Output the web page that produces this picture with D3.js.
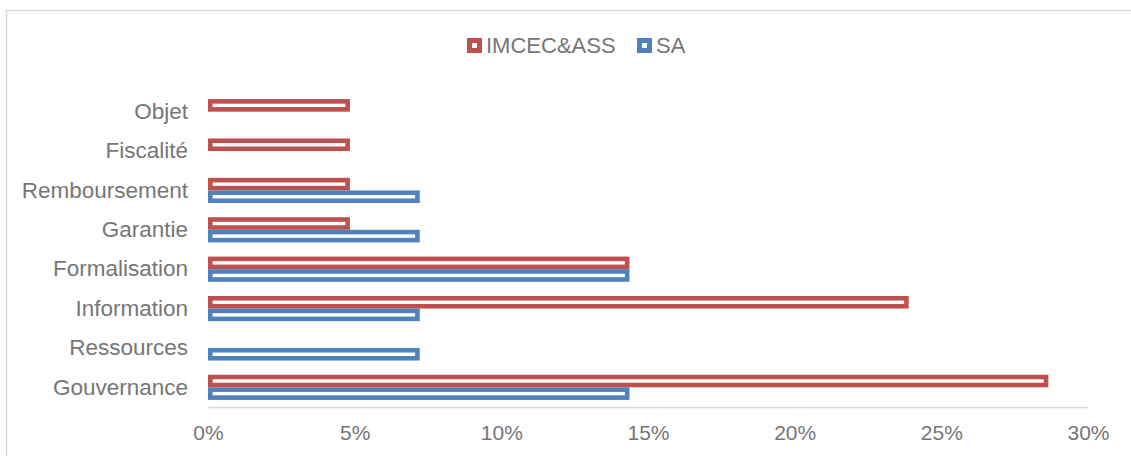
<!DOCTYPE html>
<html><head><meta charset="utf-8">
<script src="https://cdn.jsdelivr.net/npm/d3@7"></script>
<style>body{margin:0;background:#fff}svg{display:block;font-family:"Liberation Sans",Arial,sans-serif}</style>
</head><body><svg id="c" width="1131" height="456"></svg>
<script>
const categories = ["Gouvernance","Ressources","Information","Formalisation","Garantie","Remboursement","Fiscalité","Objet"];
const seriesNames = ["IMCEC&ASS","SA"];
const imcecValues = [28.57,0,23.81,14.29,4.76,4.76,4.76,4.76];
const saValues = [14.29,7.14,7.14,14.29,7.14,7.14,0,0];
const xTicks = [0,5,10,15,20,25,30];
const colors = {"IMCEC&ASS":"#C0504D","SA":"#4F81BD"};

const svg = d3.select("#c");
const textColor = "#767676";
svg.append("rect").attr("x",6.5).attr("y",10.5).attr("width",1140).attr("height",460)
  .attr("fill","none").attr("stroke","#d9d9d9").attr("stroke-width",1.5);

const x = d3.scaleLinear().domain([0,30]).range([208,1088]);
const y = d3.scaleBand().domain(categories.slice().reverse()).range([92,407]).padding(0);
const sub = d3.scaleBand().domain(seriesNames).range([y.bandwidth()/2-12.6, y.bandwidth()/2+12.6]).padding(0);

const data = [];
categories.forEach((c,i)=>{
  data.push({cat:c, s:"IMCEC&ASS", v:imcecValues[i]});
  data.push({cat:c, s:"SA", v:saValues[i]});
});
const sw = 4.6;
svg.append("g").selectAll("rect").data(data.filter(d=>d.v>0)).join("rect")
  .attr("x", x(0)+sw/2)
  .attr("y", d=>y(d.cat)+sub(d.s)+sw/2)
  .attr("width", d=>x(d.v)-x(0)-sw/2)
  .attr("height", sub.bandwidth()-sw)
  .attr("fill","#fff").attr("stroke",d=>colors[d.s]).attr("stroke-width",sw);

// x axis
const xAxis = d3.axisBottom(x).tickValues(xTicks).tickFormat(d=>d+"%").tickSize(0).tickPadding(18);
const gx = svg.append("g").attr("transform","translate(0,407)").call(xAxis);
gx.select(".domain").attr("stroke","#d9d9d9").attr("stroke-width",1.5);
gx.selectAll("text").attr("fill",textColor).attr("font-size",21).attr("font-family","'Liberation Sans',Arial,sans-serif");

// y axis labels
const yAxis = d3.axisLeft(y).tickSize(0).tickPadding(20);
const gy = svg.append("g").attr("transform","translate(208,0)").call(yAxis);
gy.select(".domain").remove();
gy.selectAll("text").attr("fill",textColor).attr("font-size",22.5).attr("font-family","'Liberation Sans',Arial,sans-serif");

// legend
const legX = [467, 637];
seriesNames.forEach((s,i)=>{
  const g = svg.append("g").attr("transform",`translate(${legX[i]},38)`);
  g.append("rect").attr("x",2.5).attr("y",2.5).attr("width",10).attr("height",10)
    .attr("fill","#fff").attr("stroke",colors[s]).attr("stroke-width",5);
  g.append("text").attr("x",19).attr("y",14.5).attr("fill",textColor).attr("font-size",22).text(s);
});
</script></body></html>
